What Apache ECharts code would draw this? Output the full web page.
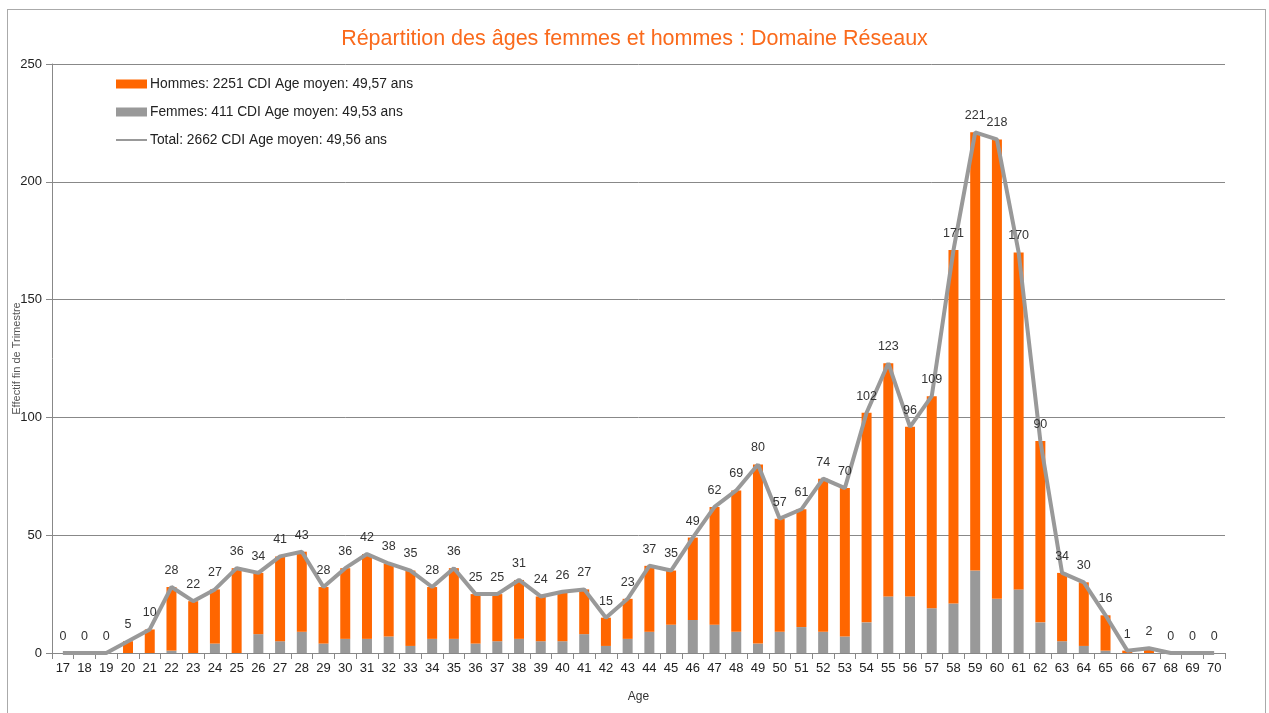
<!DOCTYPE html>
<html><head><meta charset="utf-8">
<script src="https://cdn.jsdelivr.net/npm/echarts@6/dist/echarts.min.js"></script>
<style>html,body{margin:0;padding:0;background:#fff}#c{width:1269px;height:713px}#frame{position:absolute;left:7px;top:9px;width:1259px;height:720px;border:1px solid #aaa;box-sizing:border-box;pointer-events:none}</style>
</head><body><div id="frame"></div><div id="c"></div>
<script>
const ages = ['17','18','19','20','21','22','23','24','25','26','27','28','29','30','31','32','33','34','35','36','37','38','39','40','41','42','43','44','45','46','47','48','49','50','51','52','53','54','55','56','57','58','59','60','61','62','63','64','65','66','67','68','69','70'];
const femmes = [0,0,0,0,0,1,0,4,0,8,5,9,4,6,6,7,3,6,6,4,5,6,5,5,8,3,6,9,12,14,12,9,4,9,11,9,7,13,24,24,19,21,35,23,27,13,5,3,1,0,0,0,0,0];
const hommes = [0,0,0,5,10,27,22,23,36,26,36,34,24,30,36,31,32,22,30,21,20,25,19,21,19,12,17,28,23,35,50,60,76,48,50,65,63,89,99,72,90,150,186,195,143,77,29,27,15,1,2,0,0,0];
const total = [0,0,0,5,10,28,22,27,36,34,41,43,28,36,42,38,35,28,36,25,25,31,24,26,27,15,23,37,35,49,62,69,80,57,61,74,70,102,123,96,109,171,221,218,170,90,34,30,16,1,2,0,0,0];
const yTicks = [0,50,100,150,200,250];
const names = ['Hommes: 2251 CDI Age moyen: 49,57 ans','Femmes: 411 CDI Age moyen: 49,53 ans','Total: 2662 CDI Age moyen: 49,56 ans'];
const title = 'Répartition des âges femmes et hommes : Domaine Réseaux';

const chart = echarts.init(document.getElementById('c'));
const font = 'Liberation Sans, Arial, sans-serif';
chart.setOption({
  animation:false,
  textStyle:{fontFamily:font},
  title:{text:title,left:'center',top:23,textStyle:{color:'#fa6a1c',fontSize:21.5,fontWeight:'normal',fontFamily:font}},
  legend:{
    orient:'vertical',left:111,top:72,itemGap:14,itemWidth:31,itemHeight:9,
    textStyle:{fontSize:13.8,color:'#222',fontFamily:font,padding:[0,0,0,-2]},
    data:[{name:names[0],icon:'rect'},{name:names[1],icon:'rect'},{name:names[2],icon:'path://M0,4 L31,4 L31,6 L0,6 Z'}]
  },
  grid:{left:52,right:44,top:64,bottom:60,containLabel:false,outerBoundsMode:'none'},
  xAxis:{
    type:'category',data:ages,name:'Age',nameLocation:'middle',nameGap:38,nameMoveOverlap:false,
    nameTextStyle:{fontSize:12,color:'#333'},
    axisLine:{lineStyle:{color:'#888',width:1}},
    axisTick:{show:true,interval:0,length:6,lineStyle:{color:'#888'}},
    axisLabel:{interval:0,fontSize:13,color:'#222',margin:9}
  },
  yAxis:{
    type:'value',min:yTicks[0],max:yTicks[yTicks.length-1],interval:50,
    name:'Effectif fin de Trimestre',nameLocation:'middle',nameGap:30,nameRotate:90,nameMoveOverlap:false,
    nameTextStyle:{fontSize:11,color:'#555'},
    axisLine:{show:true,lineStyle:{color:'#888'}},
    axisTick:{show:true,length:6,lineStyle:{color:'#888'}},
    axisLabel:{fontSize:13,color:'#222',margin:10},
    splitLine:{lineStyle:{color:'#888',width:1}}
  },
  series:[
    {name:names[1],type:'bar',stack:'a',data:femmes,barWidth:10,itemStyle:{color:'#999999'}},
    {name:names[0],type:'bar',stack:'a',data:hommes,barWidth:10,itemStyle:{color:'#ff6600'}},
    {name:names[2],type:'line',data:total,symbol:'circle',symbolSize:0,showSymbol:true,lineStyle:{color:'#999999',width:4},itemStyle:{color:'#999999'},
     label:{show:true,position:'top',distance:10,fontSize:12.5,color:'#333',fontFamily:font}}
  ]
});
</script></body></html>
